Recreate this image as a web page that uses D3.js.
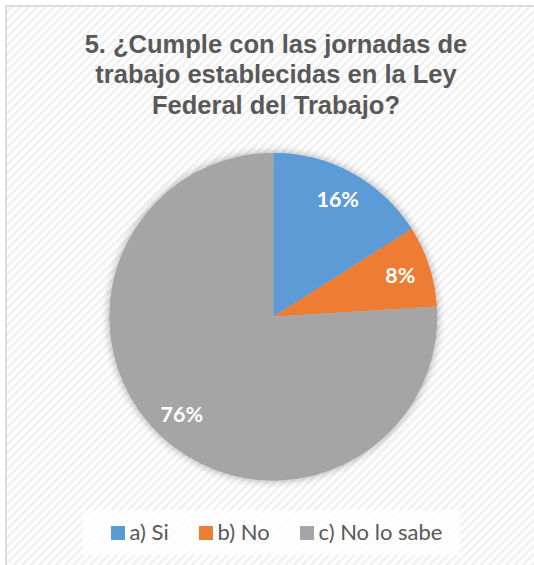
<!DOCTYPE html>
<html>
<head>
<meta charset="utf-8">
<script src="https://cdn.jsdelivr.net/npm/d3@7"></script>
<style>
  html, body { margin: 0; padding: 0; background: #ffffff; }
  svg { display: block; }
</style>
</head>
<body>
<svg id="chart" width="534" height="565"></svg>
<script>
// Survey answers, question 5
const categories = ["a) Si", "b) No", "c) No lo sabe"];
const values = [16, 8, 76];
const colors = ["#5B9BD5", "#ED7D31", "#A5A5A5"];
const titleLines = [
  "5. ¿Cumple con las jornadas de",
  "trabajo establecidas en la Ley",
  "Federal del Trabajo?"
];

const svg = d3.select("#chart");
const defs = svg.append("defs");

// Fine diagonal stripe fill of the chart area
const pat = defs.append("pattern")
  .attr("id", "stripes")
  .attr("patternUnits", "userSpaceOnUse")
  .attr("width", 6).attr("height", 6)
  .attr("patternTransform", "rotate(-45)");
pat.append("rect").attr("width", 6).attr("height", 6).attr("fill", "#ffffff");
pat.append("rect").attr("width", 6).attr("height", 2.5).attr("fill", "#f0f0f0");

// Soft shadow under the pie
const sh = defs.append("filter").attr("id", "shadow")
  .attr("x", "-20%").attr("y", "-20%").attr("width", "140%").attr("height", "140%");
sh.append("feGaussianBlur").attr("in", "SourceAlpha").attr("stdDeviation", 4).attr("result", "b");
sh.append("feComponentTransfer").attr("in", "b").attr("result", "s")
  .append("feFuncA").attr("type", "linear").attr("slope", 0.35);
const mg = sh.append("feMerge");
mg.append("feMergeNode").attr("in", "s");
mg.append("feMergeNode").attr("in", "SourceGraphic");

// Chart area with border (continues past the right and bottom edges)
svg.append("rect")
  .attr("x", 6).attr("y", 6)
  .attr("width", 560).attr("height", 580)
  .attr("fill", "url(#stripes)")
  .attr("stroke", "#d9d9d9")
  .attr("stroke-width", 1.8);

// Title
const title = svg.append("text")
  .attr("text-anchor", "middle")
  .attr("font-family", "'Liberation Sans', Arial, sans-serif")
  .attr("font-weight", "bold")
  .attr("font-size", 25.5)
  .attr("fill", "#595959");
titleLines.forEach((t, i) => {
  title.append("tspan").attr("x", 276).attr("y", 52.5 + i * 30.5).text(t);
});

// Pie
const cx = 273.3, cy = 316.7, r = 164;
const pie = d3.pie().sort(null).value(d => d);
const arcs = pie(values);
const arc = d3.arc().innerRadius(0).outerRadius(r);
const labelArc = d3.arc().innerRadius(r * 0.815).outerRadius(r * 0.815);

const g = svg.append("g").attr("transform", `translate(${cx},${cy})`);
g.append("g").attr("filter", "url(#shadow)")
  .selectAll("path")
  .data(arcs)
  .join("path")
  .attr("d", arc)
  .attr("fill", (d, i) => colors[i]);

g.selectAll("text.lbl")
  .data(arcs)
  .join("text")
  .attr("class", "lbl")
  .attr("transform", d => `translate(${labelArc.centroid(d)})`)
  .attr("dy", "0.36em")
  .attr("text-anchor", "middle")
  .attr("font-family", "Lato, 'Open Sans', sans-serif")
  .attr("font-weight", "bold")
  .attr("font-size", 21.5)
  .attr("fill", "#ffffff")
  .text(d => d.data + "%");

// Legend
svg.append("rect")
  .attr("x", 83).attr("y", 510).attr("width", 377).attr("height", 45)
  .attr("fill", "#ffffff").attr("fill-opacity", 0.75);

const legendX = [111, 199, 300];
const lg = svg.append("g");
categories.forEach((c, i) => {
  lg.append("rect")
    .attr("x", legendX[i]).attr("y", 526)
    .attr("width", 14).attr("height", 14)
    .attr("fill", colors[i]);
  lg.append("text")
    .attr("x", legendX[i] + 18.5).attr("y", 540)
    .attr("font-family", "Lato, 'Open Sans', sans-serif")
    .attr("font-size", 22)
    .attr("fill", "#595959")
    .text(c);
});
</script>
</body>
</html>
